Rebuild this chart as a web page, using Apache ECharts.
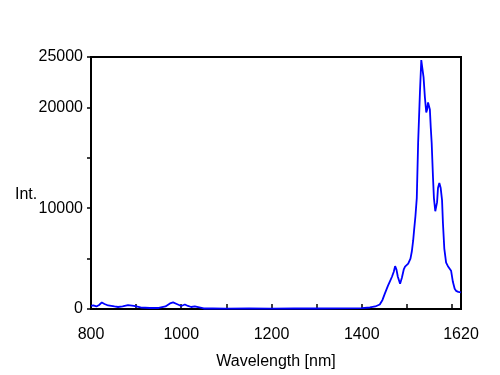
<!DOCTYPE html>
<html>
<head>
<meta charset="utf-8">
<script src="https://cdn.jsdelivr.net/npm/echarts@6/dist/echarts.min.js"></script>
<style>html,body{margin:0;padding:0;background:#fff;}#c{width:500px;height:375px;}</style>
</head>
<body>
<div id="c"></div>
<script>
var wavelengths = [800,805,812,818,824,830,838,845,852,860,870,882,895,910,930,950,965,975,982,990,1000,1008,1015,1022,1030,1040,1050,1070,1100,1150,1200,1250,1300,1350,1400,1418,1430,1440,1446,1451,1458,1463,1467,1471,1474,1477,1480,1485,1489,1493,1496,1503,1508,1511,1514,1516,1519,1522,1525,1529,1532,1534,1537,1540,1543,1545,1547,1549,1551,1553,1555,1558,1560,1563,1565,1567,1569,1572,1575,1578,1580,1583,1587,1591,1595,1598,1602,1606,1609,1614,1620];
var intensity = [300,350,250,400,650,500,350,300,250,200,250,380,300,150,100,100,250,550,650,500,300,450,300,200,250,150,50,50,30,50,40,50,50,60,80,150,250,450,900,1500,2300,2800,3200,3700,4250,3900,3200,2500,3100,3900,4200,4500,5000,5700,6800,7800,9200,11000,16500,21500,24700,24000,23000,21000,19500,19800,20500,20600,19800,18000,16500,13000,11000,9700,9800,10600,12000,12500,12000,10800,8500,6000,4600,4250,4100,3800,2700,2000,1800,1700,1650];
var xLabels = [800,1000,1200,1400,1620];
var yLabels = [0,10000,20000,25000];

var chart = echarts.init(document.getElementById('c'), null, {renderer:'canvas'});
var pts = wavelengths.map(function(w,i){return [w,intensity[i]];});
var font = '"Liberation Sans", Arial, sans-serif';
chart.setOption({
  animation:false,
  backgroundColor:'#fff',
  grid:{left:91,right:39,top:57,bottom:65,show:true,borderColor:'#000',borderWidth:2,backgroundColor:'transparent'},
  xAxis:{
    type:'value',min:800,max:1620,interval:100,
    name:'Wavelength [nm]',nameLocation:'middle',nameGap:45,
    nameTextStyle:{fontFamily:font,fontSize:16,color:'#000'},
    axisLine:{lineStyle:{color:'#000',width:2}},
    axisTick:{inside:true,length:5,lineStyle:{color:'#000',width:1.5}},
    splitLine:{show:false},
    axisLabel:{fontFamily:font,fontSize:16,color:'#000',margin:18,hideOverlap:false,showMaxLabel:true,
      formatter:function(v){return xLabels.indexOf(v)>=0?String(v):'';}}
  },
  yAxis:{
    type:'value',min:0,max:25000,interval:5000,
    axisLine:{show:true,lineStyle:{color:'#000',width:2}},
    axisTick:{show:true,inside:false,length:4,lineStyle:{color:'#000',width:1.5}},
    splitLine:{show:false},
    axisLabel:{fontFamily:font,fontSize:16,color:'#000',margin:8,padding:[14,0,0,0],
      formatter:function(v){return yLabels.indexOf(v)>=0?String(v):'';}}
  },
  graphic:[{type:'text',left:15,top:187,style:{text:'Int.',font:'16px '+font,fill:'#000'}}],
  series:[{type:'line',data:pts,showSymbol:false,smooth:false,lineStyle:{color:'#0000ff',width:1.8}}]
});
</script>
</body>
</html>
